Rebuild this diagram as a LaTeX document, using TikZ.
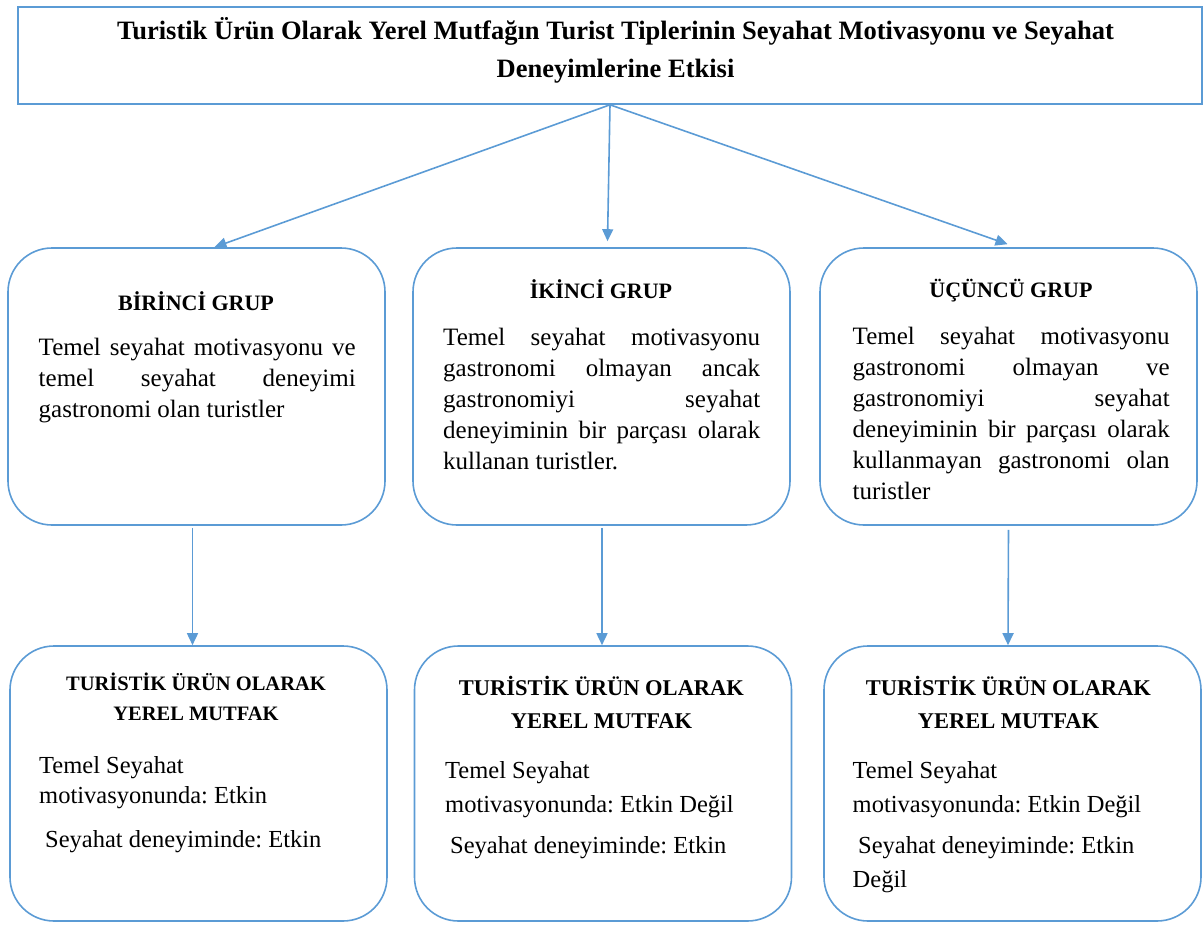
\documentclass[tikz,border=0pt]{standalone}
\usepackage{fontspec}
\setmainfont{Liberation Serif}
\usetikzlibrary{arrows.meta,calc}
\definecolor{lb}{RGB}{91,155,213}
\begin{document}
\frenchspacing
\begin{tikzpicture}[x=1pt,y=-1pt,
  frame/.style={draw=lb,line width=1.6pt,inner sep=0pt},
  rbox/.style={frame,rounded corners=44pt,minimum width=377pt,minimum height=277pt},
  arr/.style={draw=lb,line width=1.6pt,-{Triangle[length=12pt,width=11pt]}},
  head/.style={inner sep=0pt,anchor=base,font=\fontsize{22}{26}\selectfont\bfseries},
  bhead/.style={inner sep=0pt,anchor=base,align=center,font=\fontsize{22.5}{33}\selectfont\bfseries},
  body/.style={inner sep=0pt,anchor=base west,text width=317pt,align=justify,font=\fontsize{25}{31}\selectfont},
  lbody/.style={inner sep=0pt,anchor=base west,align=left,font=\fontsize{24.5}{34.5}\selectfont}]
\useasboundingbox (0,0) rectangle (1203,926);
% title
\node[frame,minimum width=1184pt,minimum height=97pt] (title) at (610,55.5) {};
\node[inner sep=0pt,anchor=base,align=center,font=\fontsize{26.5}{38}\selectfont\bfseries] (ttext) at (615.5,77)
  {Turistik Ürün Olarak Yerel Mutfağın Turist Tiplerinin Seyahat Motivasyonu ve Seyahat\\Deneyimlerine Etkisi};
% top row boxes
\node[rbox] (g1) at (196.5,386.5) {};
\node[rbox] (g2) at (601.5,386.5) {};
\node[rbox] (g3) at (1008.5,386.5) {};
% bottom row boxes
\node[rbox,minimum height=275pt] (b1) at (198.5,783.5) {};
\node[rbox,minimum height=275pt] (b2) at (603,783.5) {};
\node[rbox,minimum height=275pt] (b3) at (1012.5,783.5) {};
% arrows
\draw[arr] (title.south) -- ($(g1.north)+(18,0)$);
\draw[arr] (title.south) -- ($(g2.north)+(6,-6)$);
\draw[arr] (title.south) -- ($(g3.north)+(-1,-3)$);
\draw[arr] ($(g1.south)+(-4,2)$) -- ($(b1.north)+(-6,0)$);
\draw[arr] ($(g2.south)+(0.5,2)$) -- ($(b2.north)+(-1,0)$);
\draw[arr] ($(g3.south)+(0,4)$) -- ($(b3.north)+(-4.5,0)$);
% top texts
\node[head] (h1) at (196,310) {BİRİNCİ GRUP};
\node[body] (t1) at (38.5,355) {Temel seyahat motivasyonu ve\linebreak temel seyahat deneyimi\linebreak gastronomi olan turistler};
\node[head] (h2) at (601,298) {İKİNCİ GRUP};
\node[body] (t2) at (443,345) {Temel seyahat motivasyonu\linebreak gastronomi olmayan ancak\linebreak gastronomiyi seyahat\linebreak deneyiminin bir parçası olarak\linebreak kullanan turistler.};
\node[head] (h3) at (1011,297) {ÜÇÜNCÜ GRUP};
\node[body] (t3) at (852.5,344) {Temel seyahat motivasyonu\linebreak gastronomi olmayan ve\linebreak gastronomiyi seyahat\linebreak deneyiminin bir parçası olarak\linebreak kullanmayan gastronomi olan\linebreak turistler};
% bottom texts
\node[bhead,font=\fontsize{20.5}{30}\selectfont\bfseries] (k1) at (196,720) {TURİSTİK ÜRÜN OLARAK\\YEREL MUTFAK};
\node[lbody,font=\fontsize{24.5}{30}\selectfont] (m1) at (39,803) {Temel Seyahat\\motivasyonunda: Etkin};
\node[lbody] (s1) at (45,847) {Seyahat deneyiminde: Etkin};
\node[bhead] (k2) at (601.5,728) {TURİSTİK ÜRÜN OLARAK\\YEREL MUTFAK};
\node[lbody] (m2) at (445,812.5) {Temel Seyahat\\motivasyonunda: Etkin Değil};
\node[lbody] (s2) at (450,853) {Seyahat deneyiminde: Etkin};
\node[bhead] (k3) at (1008.5,728) {TURİSTİK ÜRÜN OLARAK\\YEREL MUTFAK};
\node[lbody] (m3) at (852.5,812.5) {Temel Seyahat\\motivasyonunda: Etkin Değil};
\node[lbody] (s3) at (858,853) {Seyahat deneyiminde: Etkin};
\node[lbody] (d3) at (852.5,887) {Değil};
\end{tikzpicture}
\end{document}
